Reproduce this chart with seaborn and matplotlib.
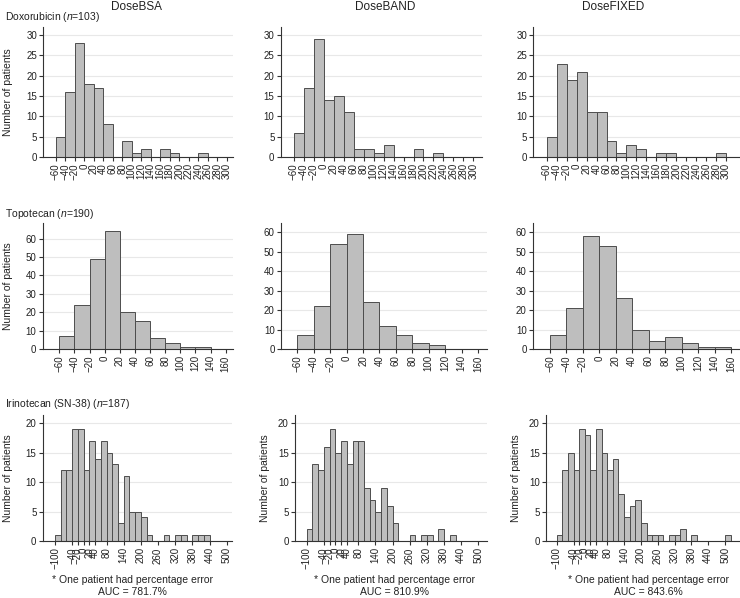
import numpy as np
import pandas as pd
import matplotlib
matplotlib.use('Agg')
import matplotlib.pyplot as plt
import seaborn as sns

sns.set_style('white')
plt.rcParams['font.family'] = ['Liberation Sans', 'DejaVu Sans']
plt.rcParams['mathtext.fontset'] = 'custom'
plt.rcParams['mathtext.it'] = 'Liberation Sans:italic'
plt.rcParams['mathtext.rm'] = 'Liberation Sans'

#column / row names
doses = ['DoseBSA', 'DoseBAND', 'DoseFIXED']
drugs = ['Doxorubicin ($n$=103)', 'Topotecan ($n$=190)', 'Irinotecan (SN-38) ($n$=187)']

#histogram counts, bins of 20 % starting at the first edge
doxo_start = -60
doxo_bsa = [5, 16, 28, 18, 17, 8, 0, 4, 1, 2, 0, 2, 1, 0, 0, 1, 0, 0]
doxo_band = [6, 17, 29, 14, 15, 11, 2, 2, 1, 3, 0, 0, 2, 0, 1, 0, 0, 0]
doxo_fixed = [5, 23, 19, 21, 11, 11, 4, 1, 3, 2, 0, 1, 1, 0, 0, 0, 0, 1]

topo_start = -60
topo_bsa = [7, 24, 49, 64, 20, 15, 6, 3, 1, 1, 0]
topo_band = [7, 22, 54, 59, 24, 12, 7, 3, 2, 0, 0]
topo_fixed = [7, 21, 58, 53, 26, 10, 4, 6, 3, 1, 1]

iri_start = -100
iri_bsa = [1, 12, 12, 19, 19, 12, 17, 14, 17, 15, 13, 3, 11, 5, 5, 4, 1, 0, 0, 1,
           0, 1, 1, 0, 1, 1, 1, 0, 0, 0, 0]
iri_band = [2, 13, 12, 16, 19, 15, 17, 13, 17, 17, 9, 7, 5, 9, 6, 3, 0, 0, 1, 0,
            1, 1, 0, 2, 0, 1, 0, 0, 0, 0, 0]
iri_fixed = [1, 12, 15, 12, 19, 18, 12, 19, 15, 12, 14, 8, 4, 6, 7, 3, 1, 1, 1, 0,
             1, 1, 2, 0, 1, 0, 0, 0, 0, 0, 1]

auc_outliers = ['781.7%', '810.9%', '843.6%']

doxo_xticks = list(range(-60, 301, 20))
topo_xticks = list(range(-60, 161, 20))
iri_xticks = [-100, -40, -20, 0, 20, 40, 80, 140, 200, 260, 320, 380, 440, 500]

rows = [
    dict(start=doxo_start, counts=[doxo_bsa, doxo_band, doxo_fixed], xticks=doxo_xticks,
         yticks=range(0, 31, 5), top=27, bottom=157,
         cols=[(43.3, 233, -86, 313, 32), (280.7, 482, -86.7, 317.5, 32), (533.3, 740, -87, 328, 32)]),
    dict(start=topo_start, counts=[topo_bsa, topo_band, topo_fixed], xticks=topo_xticks,
         yticks=range(0, 61, 10), top=223, bottom=349,
         cols=[(42.7, 233, -82, 169.7, 68.5), (281, 487, -80, 171, 64.7), (533, 740, -80.7, 171, 64.7)]),
    dict(start=iri_start, counts=[iri_bsa, iri_band, iri_fixed], xticks=iri_xticks,
         yticks=range(0, 21, 5), top=415, bottom=541,
         cols=[(42.7, 232, -143, 518.5, 21.4), (295, 487, -141, 530, 21.4), (546, 740, -138, 553, 21.4)]),
]

W, H = 740, 598
fig = plt.figure(figsize=(W / 100, H / 100), dpi=100)

edge_col = '#4d4d4d'
fill_col = '#bebebe'
axis_col = '#333333'

for r, row in enumerate(rows):
    for c, counts in enumerate(row['counts']):
        x0, x1, xmin, xmax, ymax = row['cols'][c]
        ax = fig.add_axes([x0 / W, 1 - row['bottom'] / H, (x1 - x0) / W, (row['bottom'] - row['top']) / H])
        edges = [row['start'] + 20 * k for k in range(len(counts) + 1)]
        centers = [e + 10 for e in edges[:-1]]
        df = pd.DataFrame({'pct': centers, 'n': counts})
        sns.histplot(data=df, x='pct', weights='n', bins=edges, ax=ax, color=fill_col,
                     edgecolor=edge_col, linewidth=0.7, alpha=1)
        ax.set_xlim(xmin, xmax)
        ax.set_ylim(0, ymax)
        ax.set_xticks(row['xticks'])
        ax.set_xticklabels([str(t).replace('-', '\u2212') for t in row['xticks']], rotation=90)
        ax.set_yticks(list(row['yticks']))
        ax.set_xlabel('')
        ax.set_ylabel('')
        ax.yaxis.grid(True, color='#e8e8e8', lw=0.8)
        ax.set_axisbelow(True)
        for s in ['top', 'right']:
            ax.spines[s].set_visible(False)
        for s in ['left', 'bottom']:
            ax.spines[s].set_color(axis_col)
            ax.spines[s].set_linewidth(0.8)
        ax.tick_params(axis='both', direction='out', length=3, width=0.8, color=axis_col,
                       labelsize=7, labelcolor='#222222', pad=1.5, bottom=True, left=True)

#column titles
for c, x in enumerate([137, 385, 613]):
    fig.text(x / W, 1 - 7 / H, doses[c], ha='center', va='center', fontsize=8.5, color='#222222')

#drug labels
for r, y in enumerate([17, 214, 404]):
    fig.text(5 / W, 1 - y / H, drugs[r], ha='left', va='center', fontsize=7.5, color='#222222')

#y labels
for x, y in [(8, 92), (8, 286), (8, 478), (265, 478), (516, 478)]:
    fig.text(x / W, 1 - y / H, 'Number of patients', rotation=90, ha='center', va='center',
             fontsize=7.5, color='#222222')

#footnotes
for c, x in enumerate([132, 394, 648]):
    fig.text(x / W, 1 - 580 / H, '* One patient had percentage error', ha='center', va='center',
             fontsize=7.5, color='#222222')
    fig.text(x / W, 1 - 592 / H, 'AUC = ' + auc_outliers[c], ha='center', va='center',
             fontsize=7.5, color='#222222')

fig.savefig('out.png', dpi=100)
